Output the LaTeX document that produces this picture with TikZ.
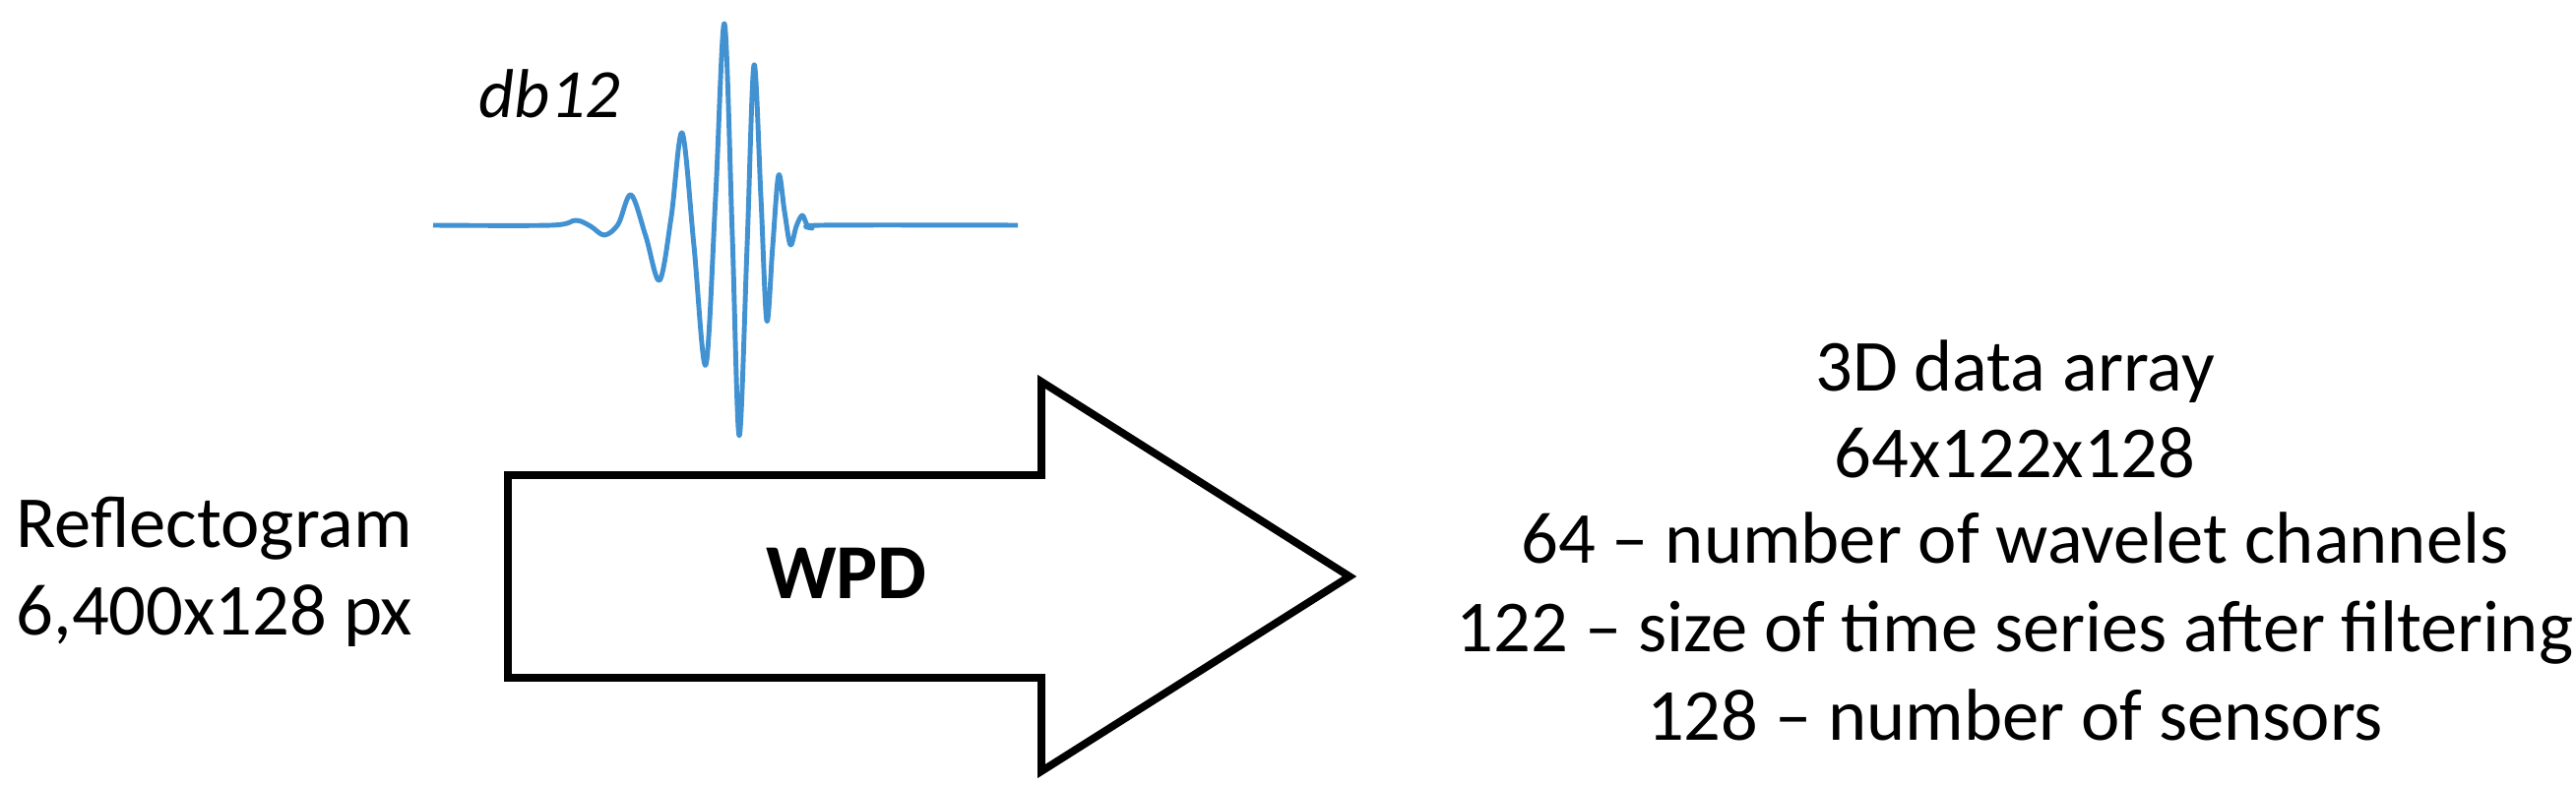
\documentclass[tikz,border=0pt]{standalone}
\usepackage{fontspec}
\setmainfont{Carlito}
\begin{document}
\begin{tikzpicture}[x=0.01cm,y=-0.01cm,
  txt/.style={inner sep=0pt,font=\fontsize{21.2}{25}\selectfont},
  wave/.style={draw={rgb,255:red,66;green,146;blue,210},line width=1.4pt,line join=round}]
\useasboundingbox (0,0) rectangle (2617,798);
% arrow
\draw[line width=2.2pt,line join=miter] (516,483) -- (1058,483) -- (1058,388) -- (1371,586) -- (1058,784) -- (1058,689) -- (516,689) -- cycle;
\node[txt,font=\fontsize{22.5}{25}\selectfont\bfseries,anchor=base] (wpd) at (860,609) {WPD};
% wavelet
\draw[wave] plot[smooth,tension=0.55] coordinates {(440,229) (560,229) (585,224) (600,230) (614,239) (628,228) (641,198) (656,240) (670,285) (682,220) (693,135) (705,250) (717,371) (727,200) (736,24) (744,240) (751,443) (759,250) (766,66) (773,200) (779,326) (785,250) (791,178) (797,215) (803,249) (809,230) (815,219) (820,229) (825,232) (835,229) (1034,229)};
\node[txt,font=\fontsize{20}{25}\selectfont\itshape,anchor=base west] (db) at (486,120) {db12};
% left text
\node[txt,anchor=base west] (r1) at (16,557) {Reflectogram};
\node[txt,anchor=base west] (r2) at (16,646) {6,400x128 px};
% right text
\node[txt,anchor=base] (t1) at (2047,398) {3D data array};
\node[txt,anchor=base] (t2) at (2047,486) {64x122x128};
\node[txt,anchor=base] (t3) at (2047,573) {64 – number of wavelet channels};
\node[txt,anchor=base] (t4) at (2047,663) {122 – size of time series after filtering};
\node[txt,anchor=base] (t5) at (2047,753) {128 – number of sensors};
\end{tikzpicture}
\end{document}
